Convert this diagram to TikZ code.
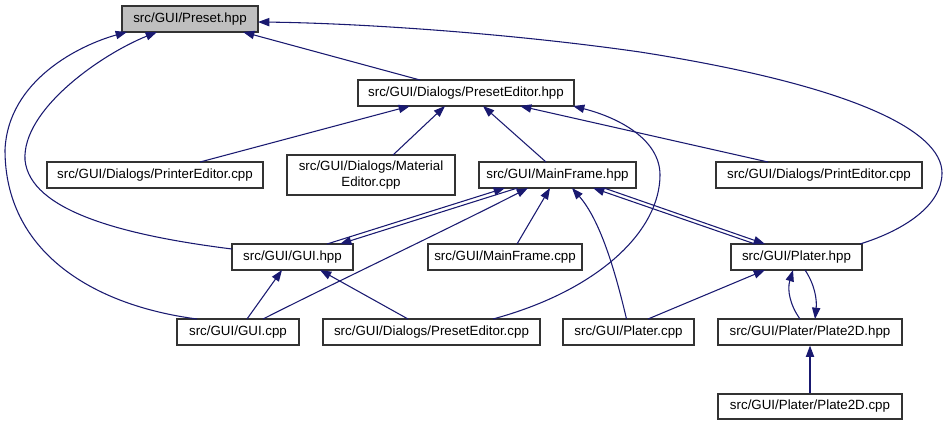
\documentclass[tikz,border=0pt]{standalone}
\usepackage{fontspec}
\setmainfont{Liberation Sans}
\usetikzlibrary{arrows.meta,calc}
\definecolor{edgeblue}{HTML}{191970}
\definecolor{boxline}{HTML}{333333}
\definecolor{hilite}{HTML}{BFBFBF}
\begin{document}
\begin{tikzpicture}[x=0.75pt,y=-0.75pt,
  box/.style={draw=boxline,line width=0.9pt,fill=white,inner sep=0pt,
    font=\fontsize{10}{12}\selectfont,align=center},
  sz/.style 2 args={minimum width=#1*0.75pt,minimum height=#2*0.75pt},
  edge/.style={draw=edgeblue,line width=0.8pt,
    -{Triangle[length=8.5pt,width=6.2pt]}}]
\useasboundingbox (0,0) rectangle (948,425);
% nodes
\node[box,fill=hilite,sz={136}{26}] (preset) at (190,19) {src/GUI/Preset.hpp};
\node[box,sz={216}{26}] (peh) at (466,93) {src/GUI/Dialogs/PresetEditor.hpp};
\node[box,sz={216}{26}] (printer) at (155,175) {src/GUI/Dialogs/PrinterEditor.cpp};
\node[box,sz={168}{40}] (material) at (371,175) {src/GUI/Dialogs/Material\\Editor.cpp};
\node[box,sz={157}{26}] (mfh) at (557.5,175) {src/GUI/MainFrame.hpp};
\node[box,sz={206}{26}] (printed) at (819,175) {src/GUI/Dialogs/PrintEditor.cpp};
\node[box,sz={121}{26}] (guih) at (292.5,257) {src/GUI/GUI.hpp};
\node[box,sz={154}{26}] (mfc) at (505,257) {src/GUI/MainFrame.cpp};
\node[box,sz={131}{26}] (plh) at (796.5,257) {src/GUI/Plater.hpp};
\node[box,sz={122}{26}] (guic) at (238,332) {src/GUI/GUI.cpp};
\node[box,sz={217}{26}] (pec) at (431.5,332) {src/GUI/Dialogs/PresetEditor.cpp};
\node[box,sz={131}{26}] (plc) at (628.5,332) {src/GUI/Plater.cpp};
\node[box,sz={184}{26}] (p2h) at (810,332) {src/GUI/Plater/Plate2D.hpp};
\node[box,sz={184}{25}] (p2c) at (810,406.5) {src/GUI/Plater/Plate2D.cpp};
% edges
\draw[edge] ($(peh)+(-46,-13)$) -- ($(preset)+(53,13)$);
\draw[edge] ($(plh)+(63.5,-13)$) .. controls (905,230) and (942,205) .. (942,173)
  .. controls (942,130) and (850,85) .. (640,52)
  .. controls (500,32) and (350,23) .. ($(preset)+(68,3)$);
\draw[edge] ($(guih)+(-60.5,-8)$) .. controls (120,235) and (30,210) .. (25,160)
  .. controls (22,110) and (100,55) .. ($(preset)+(-33,13)$);
\draw[edge] ($(guic)+(-41,-13)$) .. controls (90,305) and (5,250) .. (5,150)
  .. controls (8,80) and (80,45) .. ($(preset)+(-63,13)$);
\draw[edge] ($(printer)+(45,-13)$) -- ($(peh)+(-56,13)$);
\draw[edge] ($(material)+(22,-20)$) -- ($(peh)+(-21,13)$);
\draw[edge] ($(mfh)+(-11.5,-13)$) -- ($(peh)+(17,13)$);
\draw[edge] ($(printed)+(-51,-13)$) -- ($(peh)+(54,13)$);
\draw[edge] ($(pec)+(61.5,-13)$) .. controls (600,290) and (660,230) .. (660,175)
  .. controls (660,140) and (620,118) .. ($(peh)+(107,13)$);
\draw[edge] ($(guih)+(34.5,-13)$) -- ($(mfh)+(-52.5,13)$);
\draw[edge] ($(mfh)+(-40,13)$) -- ($(guih)+(47.5,-13)$);
\draw[edge] ($(guic)+(25,-13)$) .. controls (330,285) and (450,228) .. ($(mfh)+(-29.5,13)$);
\draw[edge] ($(mfc)+(12,-13)$) -- ($(mfh)+(-7.5,13)$);
\draw[edge] ($(plc)+(-2,-13)$) .. controls (615,270) and (600,220) .. ($(mfh)+(14.5,13)$);
\draw[edge] ($(plh)+(-41.5,-13)$) -- ($(mfh)+(35.5,13)$);
\draw[edge] ($(mfh)+(46.5,13)$) -- ($(plh)+(-31.5,-13)$);
\draw[edge] ($(plc)+(19.5,-13)$) -- ($(plh)+(-31.5,13)$);
\draw[edge] ($(p2h)+(-10,-13)$) .. controls (790,305) and (787,290) .. ($(plh)+(-3.5,13)$);
\draw[edge] ($(plh)+(8.5,13)$) .. controls (815,285) and (817,300) .. ($(p2h)+(5,-13)$);
\draw[edge] (p2c.north) -- (p2h.south);
\draw[edge] ($(guic)+(9,-13)$) -- ($(guih)+(-10.5,13)$);
\draw[edge] ($(pec)+(-23.5,-13)$) -- ($(guih)+(27.5,13)$);
\end{tikzpicture}
\end{document}
